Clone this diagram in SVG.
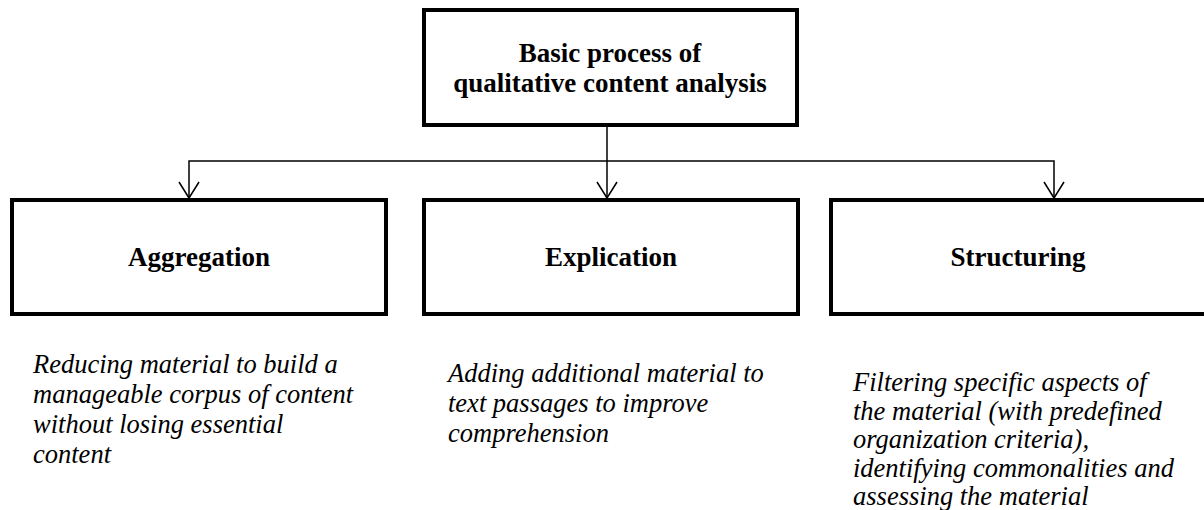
<svg xmlns="http://www.w3.org/2000/svg" width="1204" height="510" viewBox="0 0 1204 510">
  <defs>
    <!-- open V arrowhead, tip at the path end -->
    <marker id="vhead" markerUnits="userSpaceOnUse" viewBox="-18 -12 20 24" markerWidth="20" markerHeight="24" refX="0" refY="0" orient="auto">
      <path d="M-16,-10 L0,0 L-16,10" fill="none" stroke="#000" stroke-width="1.5"/>
    </marker>
  </defs>
  <style>
    .box { fill: #fff; stroke: #000; stroke-width: 4; }
    .title { font-family: "Liberation Serif", "Times New Roman", serif; font-weight: bold; font-size: 27px; fill: #000; text-anchor: middle; }
    .desc { font-family: "Liberation Serif", "Times New Roman", serif; font-style: italic; font-size: 26.5px; fill: #000; }
    .link { fill: none; stroke: #000; stroke-width: 1.5; }
  </style>
  <rect width="1204" height="510" fill="#fff"/>

  <g id="connectors">
    <path class="link" d="M607,127 V198" marker-end="url(#vhead)"/>
    <path class="link" d="M607,161 H189 V198" marker-end="url(#vhead)"/>
    <path class="link" d="M607,161 H1054 V198" marker-end="url(#vhead)"/>
  </g>

  <g id="root">
    <rect class="box" x="424" y="10" width="373" height="115"/>
    <text class="title" x="610" y="62">Basic process of</text>
    <text class="title" x="610" y="92">qualitative content analysis</text>
  </g>

  <g id="aggregation">
    <rect class="box" x="12" y="200" width="374" height="114"/>
    <text class="title" x="199" y="266">Aggregation</text>
    <text class="desc">
      <tspan x="33" y="373">Reducing material to build a</tspan>
      <tspan x="33" y="403">manageable corpus of content</tspan>
      <tspan x="33" y="433">without losing essential</tspan>
      <tspan x="33" y="463">content</tspan>
    </text>
  </g>

  <g id="explication">
    <rect class="box" x="424" y="200" width="374" height="114"/>
    <text class="title" x="611" y="266">Explication</text>
    <text class="desc">
      <tspan x="448" y="382">Adding additional material to</tspan>
      <tspan x="448" y="412">text passages to improve</tspan>
      <tspan x="448" y="442">comprehension</tspan>
    </text>
  </g>

  <g id="structuring">
    <rect class="box" x="831" y="200" width="400" height="114"/>
    <text class="title" x="1018" y="266">Structuring</text>
    <text class="desc">
      <tspan x="853" y="391">Filtering specific aspects of</tspan>
      <tspan x="853" y="420">the material (with predefined</tspan>
      <tspan x="853" y="448">organization criteria),</tspan>
      <tspan x="853" y="477">identifying commonalities and</tspan>
      <tspan x="853" y="505">assessing the material</tspan>
    </text>
  </g>
</svg>
